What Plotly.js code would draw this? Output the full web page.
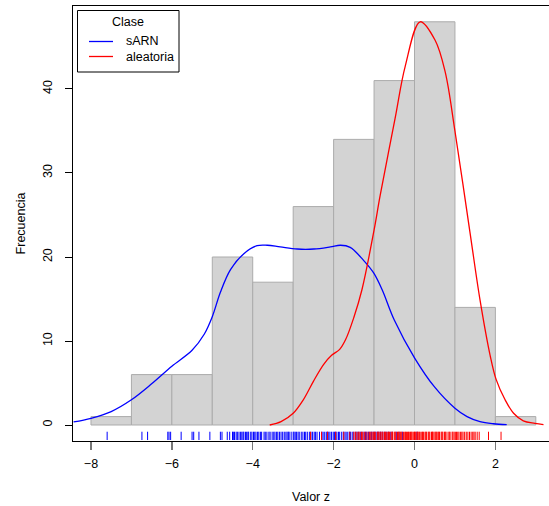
<!DOCTYPE html>
<html><head><meta charset="utf-8">
<script src="https://cdn.plot.ly/plotly-3.0.1.min.js"></script>
<style>html,body{margin:0;padding:0;overflow:hidden;background:#fff}</style>
</head><body><div id="chart" style="width:549px;height:506px"></div>
<script>
// Histogram (all values)
const binEdges = [-8,-7,-6,-5,-4,-3,-2,-1,0,1,2,3];
const binCounts = [1,6,6,20,17,26,34,41,48,14,1];

// Density curves scaled to counts
const sarnDensX = [-8.43,-8,-7.5,-7,-6.5,-6,-5.5,-5.2,-5,-4.8,-4.55,-4.22,-3.89,-3.64,-3.32,-2.9,-2.49,-2.08,-1.83,-1.59,-1.26,-1.01,-0.8,-0.5,0,0.5,1,1.3,1.62,1.95,2.28];
const sarnDensY = [0.36,0.8,1.6,3.0,4.9,7.0,8.9,10.8,12.9,15.8,18.5,20.4,21.35,21.4,21.2,20.95,20.95,21.2,21.4,21.15,19.6,18.1,16.1,12.5,8.0,4.5,2.0,1.0,0.4,0.15,0.05];
const aleaDensX = [-3.58,-3.3,-3.0,-2.75,-2.5,-2.25,-2.05,-1.85,-1.7,-1.5,-1.3,-1.0,-0.85,-0.48,-0.23,0.14,0.51,0.76,1.0,1.37,1.62,1.87,2.02,2.24,2.45,2.69,2.98,3.19];
const aleaDensY = [0,0.4,1.4,3.0,5.2,7.2,8.3,9.0,10.2,12.8,16.1,23.2,27.3,36.5,42.7,48,45.8,42,35,23,14.9,8.3,5.4,3.0,1.4,0.5,0.2,0.05];

// Rug values
const sarnRug = [-7.6,-6.74,-6.6,-6.1,-6.07,-6.03,-5.77,-5.5,-5.46,-5.33,-5.06,-4.8,-4.76,-4.63,-4.57,-4.5,-4.48,-4.45,-4.41,-4.38,-4.34,-4.3,-4.27,-4.24,-4.22,-4.18,-4.15,-4.12,-4.1,-4.05,-4.02,-3.98,-3.95,-3.92,-3.88,-3.85,-3.81,-3.78,-3.72,-3.69,-3.65,-3.6,-3.57,-3.52,-3.48,-3.45,-3.41,-3.38,-3.34,-3.3,-3.26,-3.22,-3.18,-3.15,-3.12,-3.1,-3.05,-3.0,-2.98,-2.95,-2.92,-2.88,-2.85,-2.8,-2.76,-2.72,-2.69,-2.65,-2.6,-2.56,-2.52,-2.48,-2.45,-2.41,-2.35,-2.29,-2.26,-2.22,-2.18,-2.15,-2.12,-2.09,-2.05,-2.01,-1.98,-1.95,-1.92,-1.88,-1.85,-1.8,-1.76,-1.72,-1.69,-1.65,-1.61,-1.58,-1.54,-1.5,-1.45,-1.42,-1.38,-1.34,-1.3,-1.25,-1.21,-1.18,-1.14,-1.1,-1.06,-1.02,-0.98,-0.95,-0.91,-0.88,-0.84,-0.8,-0.75,-0.7,-0.65,-0.6,-0.55,-0.45,-0.38,-0.3,0.06];
const aleaRug = [-2.57,-2.3,-2.15,-1.95,-1.75,-1.6,-1.5,-1.46,-1.42,-1.38,-1.35,-1.31,-1.28,-1.24,-1.2,-1.15,-1.11,-1.08,-1.05,-1.02,-0.99,-0.97,-0.92,-0.9,-0.88,-0.85,-0.83,-0.8,-0.78,-0.74,-0.72,-0.7,-0.66,-0.64,-0.62,-0.58,-0.56,-0.54,-0.5,-0.48,-0.46,-0.42,-0.4,-0.38,-0.35,-0.33,-0.31,-0.27,-0.24,-0.22,-0.2,-0.17,-0.15,-0.13,-0.1,-0.08,-0.06,-0.03,0.0,0.01,0.03,0.06,0.08,0.09,0.12,0.14,0.18,0.2,0.22,0.26,0.28,0.3,0.34,0.36,0.38,0.42,0.44,0.45,0.48,0.51,0.53,0.55,0.58,0.6,0.62,0.66,0.68,0.7,0.74,0.76,0.78,0.83,0.86,0.88,0.93,0.95,0.98,1.01,1.04,1.07,1.1,1.14,1.17,1.2,1.24,1.28,1.32,1.36,1.4,1.44,1.47,1.5,1.55,1.6,1.83,2.14];

const xTicks = [-8,-6,-4,-2,0,2];
const yTicks = [0,10,20,30,40];
const legendTitle = 'Clase';
const seriesNames = ['sARN','aleatoria'];
const seriesColors = ['#0000ff','#ff0000'];

const FONT = 'Liberation Sans, Arial, Helvetica, sans-serif';

const centers = binCounts.map((_, i) => (binEdges[i] + binEdges[i+1]) / 2);
const widths = binCounts.map((_, i) => binEdges[i+1] - binEdges[i]);

function rug(vals) {
  const xs = [], ys = [];
  vals.forEach(v => { xs.push(v, v, null); ys.push(-0.8, -1.79, null); });
  return {xs, ys};
}
const r1 = rug(sarnRug), r2 = rug(aleaRug);

const traces = [
  {type:'bar', x:centers, y:binCounts, width:widths,
   marker:{color:'#d3d3d3', line:{color:'#ababab', width:1}}, hoverinfo:'skip', showlegend:false},
  {type:'scatter', mode:'lines', x:sarnDensX, y:sarnDensY, line:{color:seriesColors[0], width:1.3, shape:'spline', smoothing:1}, showlegend:false},
  {type:'scatter', mode:'lines', x:aleaDensX, y:aleaDensY, line:{color:seriesColors[1], width:1.3, shape:'spline', smoothing:1}, showlegend:false},
  {type:'scatter', mode:'lines', x:r1.xs, y:r1.ys, line:{color:seriesColors[0], width:1}, showlegend:false},
  {type:'scatter', mode:'lines', x:r2.xs, y:r2.ys, line:{color:seriesColors[1], width:1}, showlegend:false}
];

// Legend drawn in paper coords
const px = v => (v - 73) / 476, py = v => (441 - v) / 435;
const shapes = [
  {type:'rect', xref:'paper', yref:'paper', x0:px(77.5), x1:px(179), y0:py(72), y1:py(10.5), line:{color:'#000', width:1}, fillcolor:'#fff'},
  {type:'line', xref:'paper', yref:'paper', x0:px(89), x1:px(113), y0:py(41.5), y1:py(41.5), line:{color:seriesColors[0], width:1.3}},
  {type:'line', xref:'paper', yref:'paper', x0:px(89), x1:px(113), y0:py(56.5), y1:py(56.5), line:{color:seriesColors[1], width:1.3}}
];
const annotations = [
  {xref:'paper', yref:'paper', x:px(128.3), y:py(21.7), text:legendTitle, showarrow:false, xanchor:'center', yanchor:'middle', font:{family:FONT, size:12.5, color:'#000'}},
  {xref:'paper', yref:'paper', x:px(123.5), y:py(41.5), text:seriesNames[0], showarrow:false, xanchor:'left', yanchor:'middle', font:{family:FONT, size:12.5, color:'#000'}},
  {xref:'paper', yref:'paper', x:px(123.5), y:py(56.5), text:seriesNames[1], showarrow:false, xanchor:'left', yanchor:'middle', font:{family:FONT, size:12.5, color:'#000'}}
];

const layout = {
  width:549, height:506,
  margin:{l:73, r:0, t:6, b:65, pad:0},
  paper_bgcolor:'#fff', plot_bgcolor:'#fff',
  font:{family:FONT, size:12.5, color:'#000'},
  showlegend:false,
  bargap:0,
  xaxis:{range:[-8.4444, 3.3259], tickvals:xTicks, ticktext:xTicks.map(v => v < 0 ? '\u2212' + Math.abs(v) : String(v)),
    showgrid:false, zeroline:false, showline:true, linecolor:'#000', linewidth:1, mirror:true,
    ticks:'outside', ticklen:8, tickwidth:1.5, tickcolor:'#777', ticklabelstandoff:3,
    title:{text:'Valor z', font:{family:FONT, size:12.5, color:'#000'}, standoff:22}},
  yaxis:{range:[-1.905, 49.88], tickvals:yTicks, tickangle:-90,
    showgrid:false, zeroline:false, showline:true, linecolor:'#000', linewidth:1,
    ticks:'outside', ticklen:7, tickwidth:1, tickcolor:'#000', ticklabelstandoff:8,
    title:{text:'Frecuencia', font:{family:FONT, size:12.5, color:'#000'}, standoff:12}},
  shapes, annotations
};
Plotly.newPlot('chart', traces, layout, {displayModeBar:false, staticPlot:true});
</script></body></html>
